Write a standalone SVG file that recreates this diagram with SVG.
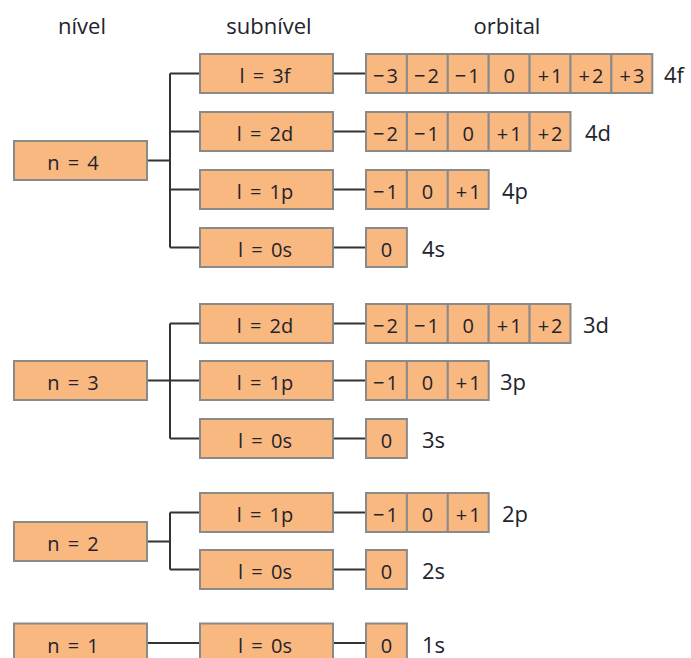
<svg xmlns="http://www.w3.org/2000/svg" width="691" height="658" viewBox="0 0 691 658">
<style>
.b{fill:#F8B880;stroke:#8a8a8a;stroke-width:2}
.t{font-family:"Open Sans","Noto Sans",sans-serif;font-size:20px;fill:#23232c;text-anchor:middle;word-spacing:3px}
.o{font-family:"Open Sans","Noto Sans",sans-serif;font-size:20px;fill:#23232c;text-anchor:middle;letter-spacing:2px}
.h{font-family:"Open Sans","Noto Sans",sans-serif;font-size:22px;fill:#23232c;text-anchor:middle}
.l{font-family:"Open Sans","Noto Sans",sans-serif;font-size:22px;fill:#23232c}
.c{fill:none;stroke:#333;stroke-width:2}
</style>
<rect width="691" height="658" fill="#fff"/>
<g id="headers">
<text class="h" x="82" y="34">nível</text>
<text class="h" x="269" y="34">subnível</text>
<text class="h" x="507" y="34">orbital</text>
</g>
<g id="connectors">
<path class="c" d="M147 160.5H170M170 73.5V247.5M170 73.5H200M170 131.5H200M170 189.5H200M170 247.5H200"/>
<path class="c" d="M333 73.5H366M333 131.5H366M333 189.5H366M333 247.5H366"/>
<path class="c" d="M147 380.5H170M170 323.5V438.5M170 323.5H200M170 380.5H200M170 438.5H200"/>
<path class="c" d="M333 323.5H366M333 380.5H366M333 438.5H366"/>
<path class="c" d="M147 541.5H170M170 512.5V569.5M170 512.5H200M170 569.5H200"/>
<path class="c" d="M333 512.5H366M333 569.5H366"/>
<path class="c" d="M147 643H200M333 643H366"/>
</g>
<g id="n4"><rect class="b" x="14" y="141" width="133" height="39"/><text class="t" x="73" y="170">n = 4</text></g>
<g id="n3"><rect class="b" x="14" y="361" width="133" height="39"/><text class="t" x="73" y="390">n = 3</text></g>
<g id="n2"><rect class="b" x="14" y="522" width="133" height="39"/><text class="t" x="73" y="551">n = 2</text></g>
<g id="n1"><rect class="b" x="14" y="623.5" width="133" height="39"/><text class="t" x="73" y="652.5">n = 1</text></g>
<g id="s4f"><rect class="b" x="200" y="54" width="133" height="39"/><text class="t" x="265" y="83">l = 3f</text></g>
<g id="s4d"><rect class="b" x="200" y="112" width="133" height="39"/><text class="t" x="265" y="141">l = 2d</text></g>
<g id="s4p"><rect class="b" x="200" y="170" width="133" height="39"/><text class="t" x="265" y="199">l = 1p</text></g>
<g id="s4s"><rect class="b" x="200" y="228" width="133" height="39"/><text class="t" x="265" y="257">l = 0s</text></g>
<g id="s3d"><rect class="b" x="200" y="304" width="133" height="39"/><text class="t" x="265" y="333">l = 2d</text></g>
<g id="s3p"><rect class="b" x="200" y="361" width="133" height="39"/><text class="t" x="265" y="390">l = 1p</text></g>
<g id="s3s"><rect class="b" x="200" y="419" width="133" height="39"/><text class="t" x="265" y="448">l = 0s</text></g>
<g id="s2p"><rect class="b" x="200" y="493" width="133" height="39"/><text class="t" x="265" y="522">l = 1p</text></g>
<g id="s2s"><rect class="b" x="200" y="550" width="133" height="39"/><text class="t" x="265" y="579">l = 0s</text></g>
<g id="s1s"><rect class="b" x="200" y="623.5" width="133" height="39"/><text class="t" x="265" y="652.5">l = 0s</text></g>
<g id="o4f">
<rect class="b" x="366" y="54" width="40.9" height="39"/><rect class="b" x="406.9" y="54" width="40.9" height="39"/><rect class="b" x="447.8" y="54" width="40.9" height="39"/><rect class="b" x="488.7" y="54" width="40.9" height="39"/><rect class="b" x="529.6" y="54" width="40.9" height="39"/><rect class="b" x="570.5" y="54" width="40.9" height="39"/><rect class="b" x="611.4" y="54" width="40.9" height="39"/>
<text class="o" x="386.5" y="83">−3</text><text class="o" x="427.4" y="83">−2</text><text class="o" x="468.3" y="83">−1</text><text class="o" x="510.2" y="83">0</text><text class="o" x="551.1" y="83">+1</text><text class="o" x="592" y="83">+2</text><text class="o" x="632.9" y="83">+3</text>
<text class="l" x="664" y="83">4f</text>
</g>
<g id="o4d">
<rect class="b" x="366" y="112" width="40.9" height="39"/><rect class="b" x="406.9" y="112" width="40.9" height="39"/><rect class="b" x="447.8" y="112" width="40.9" height="39"/><rect class="b" x="488.7" y="112" width="40.9" height="39"/><rect class="b" x="529.6" y="112" width="40.9" height="39"/>
<text class="o" x="386.5" y="141">−2</text><text class="o" x="427.4" y="141">−1</text><text class="o" x="469.3" y="141">0</text><text class="o" x="510.2" y="141">+1</text><text class="o" x="551.1" y="141">+2</text>
<text class="l" x="585" y="141">4d</text>
</g>
<g id="o4p">
<rect class="b" x="366" y="170" width="40.9" height="39"/><rect class="b" x="406.9" y="170" width="40.9" height="39"/><rect class="b" x="447.8" y="170" width="40.9" height="39"/>
<text class="o" x="386.5" y="199">−1</text><text class="o" x="428.4" y="199">0</text><text class="o" x="469.3" y="199">+1</text>
<text class="l" x="502" y="199">4p</text>
</g>
<g id="o4s">
<rect class="b" x="366" y="228" width="40.9" height="39"/>
<text class="o" x="387.5" y="257">0</text>
<text class="l" x="422" y="257">4s</text>
</g>
<g id="o3d">
<rect class="b" x="366" y="304" width="40.9" height="39"/><rect class="b" x="406.9" y="304" width="40.9" height="39"/><rect class="b" x="447.8" y="304" width="40.9" height="39"/><rect class="b" x="488.7" y="304" width="40.9" height="39"/><rect class="b" x="529.6" y="304" width="40.9" height="39"/>
<text class="o" x="386.5" y="333">−2</text><text class="o" x="427.4" y="333">−1</text><text class="o" x="469.3" y="333">0</text><text class="o" x="510.2" y="333">+1</text><text class="o" x="551.1" y="333">+2</text>
<text class="l" x="583" y="333">3d</text>
</g>
<g id="o3p">
<rect class="b" x="366" y="361" width="40.9" height="39"/><rect class="b" x="406.9" y="361" width="40.9" height="39"/><rect class="b" x="447.8" y="361" width="40.9" height="39"/>
<text class="o" x="386.5" y="390">−1</text><text class="o" x="428.4" y="390">0</text><text class="o" x="469.3" y="390">+1</text>
<text class="l" x="500" y="390">3p</text>
</g>
<g id="o3s">
<rect class="b" x="366" y="419" width="40.9" height="39"/>
<text class="o" x="387.5" y="448">0</text>
<text class="l" x="422" y="448">3s</text>
</g>
<g id="o2p">
<rect class="b" x="366" y="493" width="40.9" height="39"/><rect class="b" x="406.9" y="493" width="40.9" height="39"/><rect class="b" x="447.8" y="493" width="40.9" height="39"/>
<text class="o" x="386.5" y="522">−1</text><text class="o" x="428.4" y="522">0</text><text class="o" x="469.3" y="522">+1</text>
<text class="l" x="502" y="522">2p</text>
</g>
<g id="o2s">
<rect class="b" x="366" y="550" width="40.9" height="39"/>
<text class="o" x="387.5" y="579">0</text>
<text class="l" x="422" y="579">2s</text>
</g>
<g id="o1s">
<rect class="b" x="366" y="623.5" width="40.9" height="39"/>
<text class="o" x="387.5" y="652.5">0</text>
<text class="l" x="422" y="652.5">1s</text>
</g>
</svg>
